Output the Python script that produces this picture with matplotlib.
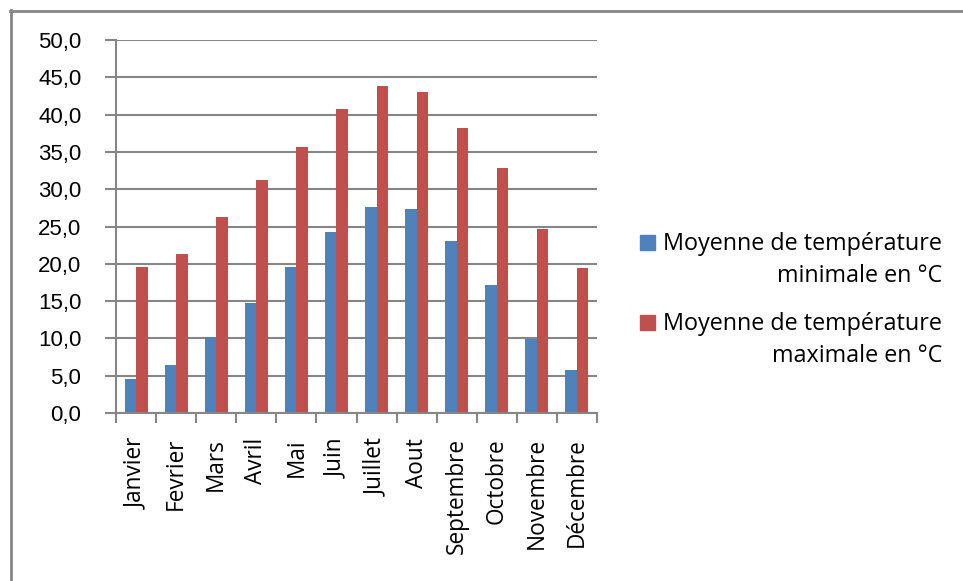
import matplotlib
matplotlib.use("Agg")
import matplotlib.pyplot as plt
from matplotlib.patches import Rectangle
from matplotlib.lines import Line2D
from matplotlib.ticker import FuncFormatter, FixedLocator
import numpy as np

months = ["Janvier", "Fevrier", "Mars", "Avril", "Mai", "Juin", "Juillet",
          "Aout", "Septembre", "Octobre", "Novembre", "Décembre"]
t_min = [4.5, 6.4, 10.2, 14.7, 19.6, 24.3, 27.6, 27.3, 23.0, 17.1, 9.9, 5.8]
t_max = [19.6, 21.3, 26.3, 31.3, 35.7, 40.7, 43.8, 43.0, 38.2, 32.9, 24.6, 19.5]
series_labels = [["Moyenne de température", "minimale en °C"],
                 ["Moyenne de température", "maximale en °C"]]
y_ticks = np.arange(0, 50.1, 5)

BLUE = "#4F81BD"
RED = "#C0504D"
GREY = "#868686"
TEXT_FONT = "Open Sans"

W, H = 963, 581
fig = plt.figure(figsize=(W / 100, H / 100), dpi=100)
fig.patch.set_facecolor("white")

def fx(px):
    return px / W

def fy(py):
    return 1 - py / H

ax = fig.add_axes([fx(116), fy(413), fx(597) - fx(116), fy(40) - fy(413)])

x = np.arange(len(months))
bw = 0.287
ax.bar(x - bw / 2, t_min, width=bw, color=BLUE, zorder=3)
ax.bar(x + bw / 2, t_max, width=bw, color=RED, zorder=3)

ax.set_xlim(-0.5, len(months) - 0.5)
ax.set_ylim(0, 50)

ax.set_yticks(y_ticks)
ax.yaxis.set_major_formatter(FuncFormatter(lambda v, p: f"{v:.1f}".replace(".", ",")))
ax.tick_params(axis="y", length=8, width=1.5, color=GREY, pad=17,
               labelsize=16, direction="out")
for lab in ax.get_yticklabels():
    lab.set_fontfamily("Liberation Sans")

ax.set_xticks(x)
ax.set_xticklabels(months, rotation=90, fontsize=16.3, fontfamily=TEXT_FONT)
ax.tick_params(axis="x", which="major", length=0, pad=18)
ax.xaxis.set_minor_locator(FixedLocator(np.arange(-0.5, len(months), 1.0)))
ax.tick_params(axis="x", which="minor", length=7, width=1.5, color=GREY, direction="out")

ax.grid(axis="y", color=GREY, linewidth=1.5, zorder=0)
ax.set_axisbelow(True)
for s in ["top", "right"]:
    ax.spines[s].set_visible(False)
for s in ["left", "bottom"]:
    ax.spines[s].set_color(GREY)
    ax.spines[s].set_linewidth(1.5)
    ax.spines[s].set_zorder(4)

# legend: coloured squares with right-aligned two-line labels
leg_font = dict(fontfamily=TEXT_FONT, fontsize=16.8, color="black", ha="right", va="baseline")
entries = [(BLUE, 235, [250, 282]), (RED, 315, [330, 362])]
for (col, top, baselines), lines in zip(entries, series_labels):
    fig.patches.append(Rectangle((fx(640), fy(top + 15)), fx(15), 15 / H,
                                 transform=fig.transFigure, color=col, figure=fig))
    for bl, txt in zip(baselines, lines):
        fig.text(fx(942), fy(bl), txt, **leg_font)

# chart frame
fig.add_artist(Line2D([fx(10), 1.0], [fy(11), fy(11)], color=GREY, linewidth=2))
fig.add_artist(Line2D([fx(11), fx(11)], [fy(10), 0.0], color=GREY, linewidth=2))

fig.savefig("out.png", dpi=100)
